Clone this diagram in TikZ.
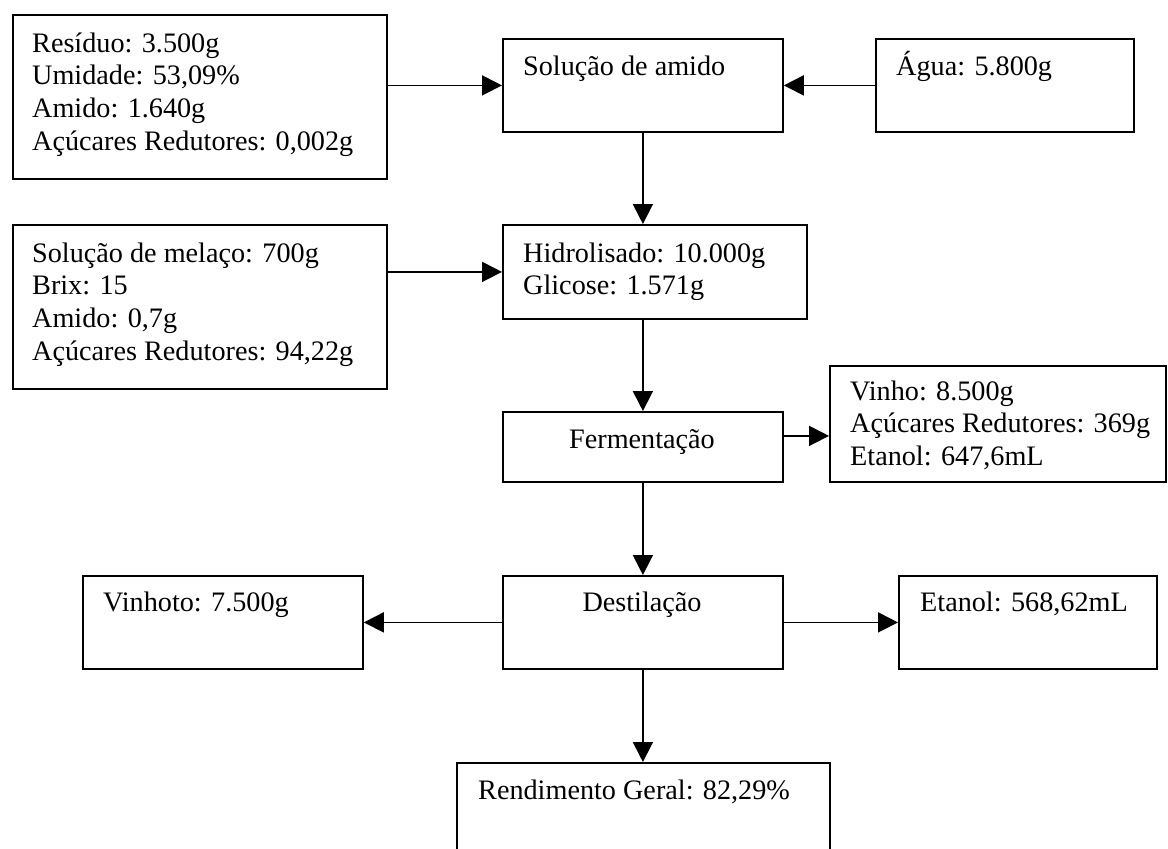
\documentclass[tikz,border=0pt]{standalone}
\usepackage{fontspec}
\setmainfont{Liberation Serif}
\usetikzlibrary{arrows.meta}
\begin{document}
\begin{tikzpicture}[x=1pt,y=-1pt,
  box/.style={draw, line width=1.8pt, inner sep=0pt, anchor=north west},
  % multi-line texts are placed by the baseline of their last line
  txt/.style={inner sep=0pt, anchor=base west, align=left,
    font=\fontsize{28.2}{32.7}\selectfont},
  ctxt/.style={inner sep=0pt, anchor=base,
    font=\fontsize{28.2}{32.7}\selectfont},
  flow/.style={line width=1.8pt, -{Triangle[length=20pt,width=20pt]}}]
\clip (0,0) rectangle (1168,849);
\fill[white] (0,0) rectangle (1168,849);

% boxes
\node[box, minimum width=374pt, minimum height=164pt] (res) at (12,14) {};
\node[box, minimum width=280pt, minimum height=93pt]  (sol) at (502,38) {};
\node[box, minimum width=258pt, minimum height=93pt]  (agua) at (875,38) {};
\node[box, minimum width=374pt, minimum height=164pt] (mel) at (12,224) {};
\node[box, minimum width=304pt, minimum height=94pt]  (hid) at (502,224) {};
\node[box, minimum width=280pt, minimum height=70pt]  (fer) at (502,411) {};
\node[box, minimum width=336pt, minimum height=116pt] (vin) at (829,365) {};
\node[box, minimum width=280pt, minimum height=93pt]  (des) at (502,575) {};
\node[box, minimum width=280pt, minimum height=93pt]  (vto) at (82,575) {};
\node[box, minimum width=258pt, minimum height=93pt]  (eta) at (898,575) {};
\node[box, minimum width=373pt, minimum height=150pt] (ren) at (456,762) {};

% texts
\node[txt] (res-t) at (32,150.1) {Resíduo: 3.500g\\Umidade: 53,09\%\\Amido: 1.640g\\Açúcares Redutores: 0,002g};
\node[txt] (sol-t) at (523,75) {Solução de amido};
\node[txt] (agua-t) at (896,75) {Água: 5.800g};
\node[txt] (mel-t) at (32,360.1) {Solução de melaço: 700g\\Brix: 15\\Amido: 0,7g\\Açúcares Redutores: 94,22g};
\node[txt] (hid-t) at (523,294.7) {Hidrolisado: 10.000g\\Glicose: 1.571g};
\node[ctxt] (fer-t) at (642,448) {Fermentação};
\node[txt] (vin-t) at (850,465.4) {Vinho: 8.500g\\Açúcares Redutores: 369g\\Etanol: 647,6mL};
\node[ctxt] (des-t) at (642,611) {Destilação};
\node[txt] (vto-t) at (103,611) {Vinhoto: 7.500g};
\node[txt] (eta-t) at (920,611) {Etanol: 568,62mL};
\node[txt] (ren-t) at (478,799) {Rendimento Geral: 82,29\%};

% connectors
\draw[flow] (res.east |- sol.west) -- (sol.west);
\draw[flow] (agua.west) -- (sol.east);
\draw[flow] (sol.south) -- (sol.south |- hid.north);
\draw[flow] (mel.east |- hid.west) -- (hid.west);
\draw[flow] (fer.north |- hid.south) -- (fer.north);
\coordinate (fv) at ([yshift=11pt]fer.east);
\draw[flow] (fv) -- (fv -| vin.west);
\draw[flow] (fer.south) -- (des.north);
\draw[flow] (des.west) -- (vto.east);
\draw[flow] (des.east) -- (eta.west);
\draw[flow] (des.south) -- (des.south |- ren.north);
\end{tikzpicture}
\end{document}
